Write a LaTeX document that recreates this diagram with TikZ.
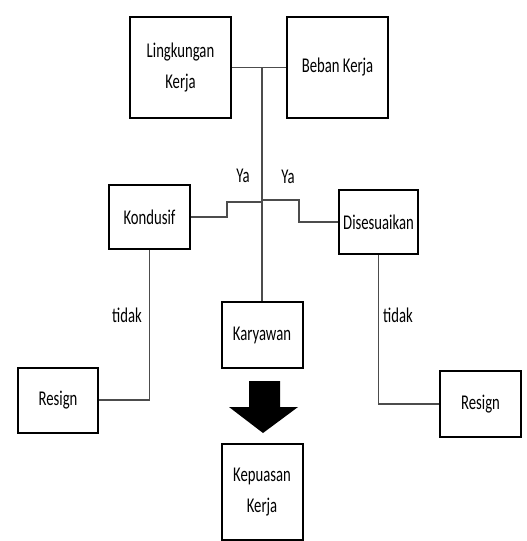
\documentclass[tikz,border=0pt]{standalone}
\usepackage{fontspec}
\setmainfont{Carlito}[FakeStretch=0.7]
\tikzset{
  kotak/.style={draw=black,line width=2pt,align=center,inner sep=1pt,font=\fontsize{21}{31}\selectfont},
  garis/.style={draw=black!70,line width=1.2pt},
  label/.style={font=\fontsize{21}{31}\selectfont}
}
\begin{document}
\begin{tikzpicture}[x=1pt,y=-1pt]
  \useasboundingbox (0,0) rectangle (527,541);
  % kotak atas
  \node[kotak,minimum width=101pt,minimum height=101pt] (lingkungan) at (180.5,67.5) {Lingkungan\\Kerja};
  \node[kotak,minimum width=101pt,minimum height=101pt] (beban) at (337.5,67.5) {Beban Kerja};
  % kotak tengah
  \node[kotak,minimum width=81pt,minimum height=64pt] (kondusif) at (149.5,217) {Kondusif};
  \node[kotak,minimum width=79pt,minimum height=64pt] (sesuai) at (378.5,222) {Disesuaikan};
  \node[kotak,minimum width=81pt,minimum height=66pt] (karyawan) at (262,335) {Karyawan};
  % kotak bawah
  \node[kotak,minimum width=80pt,minimum height=65pt] (resignA) at (58,400) {Resign};
  \node[kotak,minimum width=81pt,minimum height=66pt] (resignB) at (480.5,404) {Resign};
  \node[kotak,minimum width=81pt,minimum height=96pt] (kepuasan) at (262,492) {Kepuasan\\Kerja};
  % garis penghubung
  \coordinate (atas) at (262,67.5);
  \coordinate (kiri) at (262,202);
  \coordinate (kanan) at (262,200);
  \draw[garis] (lingkungan.east) -- (beban.west);
  \draw[garis] (atas) -- (karyawan.north);
  \draw[garis] (kondusif.east) -- (227,217) -- (227,202) -- (kiri);
  \draw[garis] (kanan) -- (299,200) -- (299,222) -- (sesuai.west);
  \draw[garis] (kondusif.south) |- (resignA.east);
  \draw[garis] (sesuai.south) |- (resignB.west);
  \node[label] (yaA) at (243,176) {Ya};
  \node[label] (yaB) at (288,177) {Ya};
  \node[label] (tidakA) at (127,315) {tidak};
  \node[label] (tidakB) at (398,315) {tidak};
  % panah besar
  \fill (249,381) -- (280,381) -- (280,407) -- (298,407) -- (263,433)
    -- (229,407) -- (249,407) -- cycle;
\end{tikzpicture}
\end{document}
